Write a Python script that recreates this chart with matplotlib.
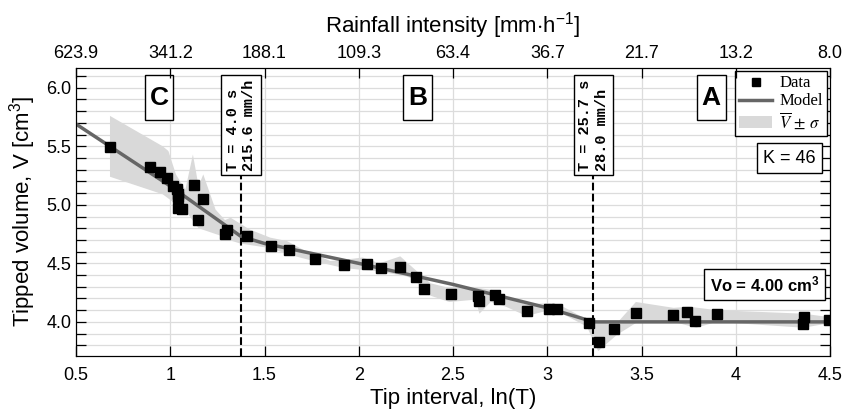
import numpy as np
import matplotlib
matplotlib.use('Agg')
import matplotlib.pyplot as plt
from matplotlib.patches import Rectangle

plt.rcParams['font.family'] = ['Liberation Sans', 'DejaVu Sans']
plt.rcParams['mathtext.fontset'] = 'custom'
plt.rcParams['mathtext.rm'] = 'Liberation Sans'
plt.rcParams['mathtext.it'] = 'Liberation Sans:italic'
plt.rcParams['mathtext.bf'] = 'Liberation Sans:bold'

# Measured tips: ln(T) and tipped volume
tip_lnT = [0.680, 0.892, 0.945, 0.984, 1.016, 1.037, 1.041, 1.042, 1.042, 1.064,
           1.124, 1.148, 1.175, 1.290, 1.302, 1.408, 1.533, 1.631, 1.767, 1.921,
           2.045, 2.119, 2.220, 2.301, 2.347, 2.490, 2.633, 2.640, 2.722, 2.744,
           2.890, 3.010, 3.053, 3.222, 3.275, 3.353, 3.468, 3.669, 3.743, 3.786,
           3.900, 4.357, 4.360, 4.493]
tip_vol = [5.498, 5.327, 5.282, 5.233, 5.160, 5.137, 4.977, 5.094, 5.066, 4.966,
           5.171, 4.872, 5.048, 4.752, 4.786, 4.735, 4.650, 4.615, 4.536, 4.484,
           4.496, 4.462, 4.473, 4.387, 4.285, 4.239, 4.222, 4.182, 4.233, 4.197,
           4.091, 4.111, 4.111, 3.994, 3.829, 3.943, 4.074, 4.063, 4.083, 4.006,
           4.066, 3.980, 4.045, 4.014]

# Model (piecewise), knots
model_lnT = [0.5, 1.0, 1.375, 1.5, 2.0, 2.5, 3.0, 3.245, 4.5]
model_vol = [5.69, 5.16, 4.73, 4.67, 4.50, 4.32, 4.12, 4.00, 4.00]

# mean +/- std band edges
band_up_x = [0.68, 0.96, 0.99, 1.03, 1.08, 1.12, 1.15, 1.175, 1.24, 1.29, 1.32, 1.42,
             1.53, 1.62, 1.70, 1.85, 1.97, 2.02, 2.11, 2.22, 2.31, 2.38, 2.48, 2.63,
             2.72, 2.78, 2.89, 3.01, 3.06, 3.21, 3.25, 3.37, 3.47, 3.67, 3.75, 3.90,
             4.36, 4.5]
band_up_y = [5.76, 5.50, 5.46, 5.26, 5.13, 5.43, 5.16, 5.26, 4.96, 4.87, 4.89, 4.79,
             4.72, 4.69, 4.62, 4.52, 4.54, 4.55, 4.50, 4.56, 4.43, 4.33, 4.29, 4.29,
             4.27, 4.20, 4.15, 4.16, 4.15, 4.02, 4.00, 3.99, 4.17, 4.12, 4.13, 4.10,
             4.07, 4.04]
band_lo_x = [0.68, 0.96, 1.01, 1.03, 1.09, 1.15, 1.26, 1.33, 1.37, 1.53, 1.64, 1.76,
             1.92, 2.11, 2.25, 2.30, 2.35, 2.48, 2.62, 2.64, 2.70, 2.78, 2.89, 3.01,
             3.08, 3.21, 3.27, 3.37, 3.47, 3.67, 3.79, 3.90, 4.36, 4.5]
band_lo_y = [5.24, 5.09, 5.03, 4.93, 4.93, 4.80, 4.74, 4.69, 4.67, 4.63, 4.57, 4.52,
             4.46, 4.43, 4.39, 4.36, 4.24, 4.17, 4.19, 4.07, 4.17, 4.13, 4.05, 4.10,
             4.07, 3.96, 3.75, 3.89, 3.99, 4.00, 3.95, 4.00, 3.95, 3.99]

# top axis: rainfall intensity labels
top_ticks = [0.5, 1.0, 1.5, 2.0, 2.5, 3.0, 3.5, 4.0, 4.5]
intensity_labels = ['623.9', '341.2', '188.1', '109.3', '63.4', '36.7', '21.7', '13.2', '8.0']

# regime thresholds
thresholds = [1.375, 3.245]
threshold_text = ['T = 4.0 s\n215.6 mm/h', 'T = 25.7 s\n28.0 mm/h']
regions = ['C', 'B', 'A']
region_x = [0.94, 2.311, 3.87]

fig = plt.figure(figsize=(8.45, 4.09), dpi=100)
ax = fig.add_axes([0.090, 0.130, 0.8923, 0.704])

band = ax.fill(np.r_[band_up_x, band_lo_x[::-1]], np.r_[band_up_y, band_lo_y[::-1]],
               color='#d9d9d9', lw=0, zorder=1, label=r'$\overline{V}\,\pm\,\sigma$')[0]
model, = ax.plot(model_lnT, model_vol, color='#666666', lw=2.5, zorder=2, label='Model')
data, = ax.plot(tip_lnT, tip_vol, 's', color='black', ms=7, zorder=3, label='Data')

ax.set_xlim(0.5, 4.5)
ax.set_ylim(3.71, 6.17)
ax.set_xticks(top_ticks)
ax.set_xticklabels(['0.5', '1', '1.5', '2', '2.5', '3', '3.5', '4', '4.5'])
ax.set_yticks([4.0, 4.5, 5.0, 5.5, 6.0])
ax.set_yticks(np.arange(3.8, 6.15, 0.1), minor=True)
ax.grid(which='both', axis='y', color='#dcdcdc', lw=0.9, zorder=0)
ax.grid(which='major', axis='x', color='#dcdcdc', lw=0.9, zorder=0)
ax.set_axisbelow(True)
ax.tick_params(which='both', direction='in', right=True, length=7, width=0.9, labelsize=13)
ax.tick_params(axis='x', pad=8)
ax.set_xlabel('Tip interval, ln(T)', fontsize=16, labelpad=3)
ax.set_ylabel('Tipped volume, V [cm$^3$]', fontsize=16, labelpad=6)

ax2 = ax.twiny()
ax2.set_xlim(ax.get_xlim())
ax2.set_xticks(top_ticks)
ax2.set_xticklabels(intensity_labels)
ax2.tick_params(direction='in', length=7, width=0.9, labelsize=13, pad=4)
ax2.set_xlabel(r'Rainfall intensity [mm$\cdot$h$^{-1}$]', fontsize=16, labelpad=9)

# thresholds: dashed line + rotated text box
for xt, txt in zip(thresholds, threshold_text):
    ax.plot([xt, xt], [3.71, 5.26], '--', color='black', lw=1.5, zorder=4)
    ax.text(xt, 5.68, txt, rotation=90, ha='center', va='center', multialignment='left',
            family='Liberation Mono', fontweight='bold', fontsize=11, linespacing=1.2,
            bbox=dict(boxstyle='square,pad=0.3', fc='white', ec='black', lw=1), zorder=5)

# region letters in tall boxes
for lab, xr in zip(regions, region_x):
    ax.add_patch(Rectangle((xr - 0.076, 5.726), 0.152, 0.385, fc='white', ec='black',
                           lw=1, zorder=5))
    ax.text(xr, 5.915, lab, ha='center', va='center', fontsize=19, fontweight='bold',
            zorder=6)

ax.text(4.283, 5.40, 'K = 46', ha='center', va='center', fontsize=13,
        bbox=dict(boxstyle='square,pad=0.35', fc='white', ec='black', lw=1), zorder=5)
ax.text(4.151, 4.32, r'Vo = 4.00 cm$^\mathbf{3}$', ha='center', va='center', fontsize=12,
        fontweight='bold',
        bbox=dict(boxstyle='square,pad=0.35', fc='white', ec='black', lw=1), zorder=5)

leg = ax.legend(handles=[data, model, band], loc='upper right', numpoints=1,
                prop={'family': 'Liberation Serif', 'size': 12}, fancybox=False,
                framealpha=1, edgecolor='black', labelspacing=0.12, borderpad=0.25,
                handlelength=2.0, handletextpad=0.4, borderaxespad=0.2, markerscale=0.8)
leg.get_frame().set_linewidth(1)
for t in leg.get_texts():
    t.set_math_fontfamily('stix')
leg.set_zorder(7)

fig.savefig('out.png', dpi=100)
